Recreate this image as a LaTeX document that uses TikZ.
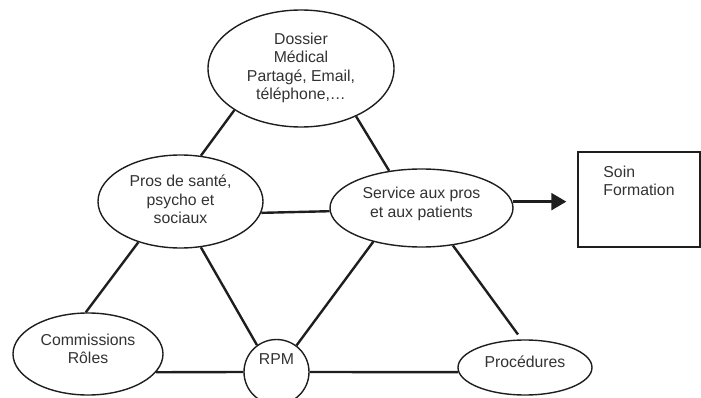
\documentclass[tikz,border=0pt]{standalone}
\usepackage{fontspec}
\setmainfont{Liberation Sans}
\usepackage{tikz}
\usetikzlibrary{shapes.geometric}
\usetikzlibrary{arrows.meta}
\definecolor{inkgray}{RGB}{50,50,50}
\definecolor{linegray}{RGB}{30,30,30}
\newcommand{\lifted}[3][c]{\raisebox{#2}[\height][\depth]{\begin{tabular}{@{}#1@{}}#3\end{tabular}}}
\tikzset{
    common/.style={draw=linegray, line width=1.4pt, text=inkgray, inner sep=0pt, font=\fontsize{15.8}{18.5}\selectfont},
    bubble/.style={common, ellipse},
    hub/.style={common, circle, minimum size=65pt},
    framebox/.style={common, rectangle, minimum width=122pt, minimum height=95pt},
    link/.style={draw=linegray, line width=2.4pt}
}
\begin{document}
\begin{tikzpicture}[x=1pt, y=-1pt]
    \useasboundingbox (0,0) rectangle (701,398);

    \node[bubble, minimum width=186pt, minimum height=117pt] (dossier) at (301,68.5)
        {\lifted{0pt}{Dossier\\Médical\\Partagé, Email,\\téléphone,…}};
    \node[bubble, minimum width=165pt, minimum height=93pt] (pros) at (180.5,201.5)
        {\lifted{0pt}{Pros de santé,\\psycho et\\sociaux}};
    \node[bubble, minimum width=183pt, minimum height=78pt] (service) at (421.5,208)
        {\lifted{3.5pt}{Service aux pros\\et aux patients}};
    \node[bubble, minimum width=150pt, minimum height=82pt] (commissions) at (88,354)
        {\lifted{3pt}{Commissions\\Rôles}};
    \node[hub] (rpm) at (276.5,372) {\lifted{11pt}{RPM}};
    \node[bubble, minimum width=134pt, minimum height=55pt] (procedures) at (525,367.5)
        {\lifted{3.5pt}{Procédures}};
    \node[framebox] (care) at (639,199.5) {\lifted[l]{16.5pt}{Soin\\Formation}\hspace{10pt}};

    \draw[link] (dossier.212) -- (pros.66);
    \draw[link] (dossier.319) -- (service.131);
    \draw[link] (pros.352.6) -- (service.182.5);
    \draw[link] (pros.224) -- (commissions.93);
    \draw[link] (pros.294.5) -- (rpm.126);
    \draw[link] (service.215) -- (rpm.53);
    \draw[link, shorten >=6pt] (service.310) -- (procedures.97);
    \draw[link] (commissions.345) -- (rpm.west);
    \draw[link] (rpm.east) -- (procedures.184);
    \draw[link, -{Triangle[length=15pt, width=17pt]}, shorten >=11pt] (service.4) -- (service.4 -| care.west);
\end{tikzpicture}
\end{document}
